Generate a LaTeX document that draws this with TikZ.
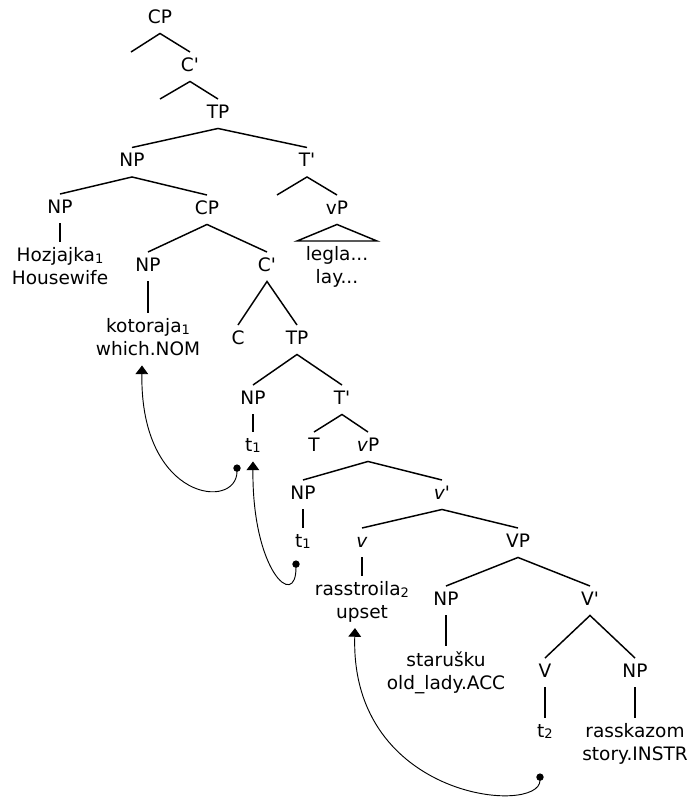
\documentclass[tikz,border=0pt]{standalone}
\usepackage{fontspec}
\setmainfont{DejaVu Sans}
\usepackage{tikz}
\usetikzlibrary{calc}
\usetikzlibrary{arrows.meta}

% index on traces and moved items
\newcommand{\idx}[1]{\raisebox{-1.2pt}{\fontsize{9.8pt}{10pt}\selectfont#1}}

\begin{document}
\begin{tikzpicture}[x=0.75pt,y=-0.75pt,
    cat/.style={anchor=north, inner xsep=1pt, inner ysep=4.1pt,
        text height=10.1pt, text depth=3.4pt,
        font=\fontsize{13.9pt}{17pt}\selectfont},
    leaf/.style={anchor=north, inner xsep=1pt, inner ysep=4.1pt,
        align=center, font=\fontsize{13.9pt}{17pt}\selectfont},
    branch/.style={line width=1.1pt},
    move/.style={line width=0.7pt,
        {Circle[length=5.5pt]}-{Triangle[width=9.5pt,length=6.5pt]}}]
        \useasboundingbox (0,0) rectangle (688,801);

        % Upper spine
        \node[cat] (cp1) at (160,4) {CP};
        \coordinate (spec1) at (131,52);
        \node[cat] (cb1) at (190,52) {C\textquotesingle};
        \coordinate (spec2) at (160,99);
        \node[cat] (tp1) at (218,99) {TP};
        \node[cat] (np1) at (132,147.5) {NP};
        \node[cat] (tb1) at (307,147.5) {T\textquotesingle};
        \node[cat] (np2) at (60,194) {NP};
        \node[cat] (cp2) at (207,195) {CP};
        \node[cat] (vp1) at (337,195) {vP};
        \node[leaf] (hoz) at (60,242) {Hozjajka\idx{1}\\Housewife};
        \node[leaf] (leg) at (337,241) {legla...\\lay...};

        % Relative clause
        \node[cat] (np3) at (148,252) {NP};
        \node[cat] (cb2) at (267,252) {C\textquotesingle};
        \node[leaf] (kot) at (148,313) {kotoraja\idx{1}\\which.NOM};
        \node[cat] (c2) at (238,325) {C};
        \node[cat] (tp2) at (297,325) {TP};
        \node[cat] (np4) at (253,385) {NP};
        \node[cat] (tb2) at (342,385) {T\textquotesingle};
        \node[cat] (t1a) at (253,432) {t\idx{1}};
        \node[cat] (t2) at (314,432) {T};
        \node[cat] (vp2) at (368,432) {\textit{v}P};
        \node[cat] (np5) at (303,480) {NP};
        \node[cat] (vb) at (442,480) {\textit{v\textquotesingle}};
        \node[cat] (t1b) at (303,528) {t\idx{1}};
        \node[cat] (v) at (362,528) {\textit{v}};
        \node[cat] (vp3) at (518,528) {VP};
        \node[leaf] (ras) at (362,576) {rasstroila\idx{2}\\upset};
        \node[cat] (np6) at (446,586) {NP};
        \node[cat] (vb2) at (590,586) {V\textquotesingle};
        \node[leaf] (sta) at (446,646) {starušku\\old\_lady.ACC};
        \node[cat] (vv) at (545,658) {V};
        \node[cat] (np7) at (635,658) {NP};
        \node[cat] (t2b) at (545,718) {t\idx{2}};
        \node[leaf] (rak) at (635,718) {rasskazom\\story.INSTR};

        % Branches
        \draw[branch] (spec1) -- (cp1.south) -- (cb1.north);
        \draw[branch] (spec2) -- (cb1.south) -- (tp1.north);
        \draw[branch] (np1.north) -- (tp1.south) -- (tb1.north);
        \draw[branch] (np2.north) -- (np1.south) -- (cp2.north);
        \draw[branch] ($(tb1.south)+(-30,18)$) -- (tb1.south) -- (vp1.north);
        \draw[branch] (vp1.south) -- ($(leg.north)+(-40,0)$) -- ($(leg.north)+(40,0)$) -- cycle;
        \draw[branch] (np2.south) -- (hoz.north);
        \draw[branch] (np3.north) -- (cp2.south) -- (cb2.north);
        \draw[branch] (np3.south) -- (kot.north);
        \draw[branch] (c2.north) -- (cb2.south) -- (tp2.north);
        \draw[branch] (np4.north) -- (tp2.south) -- (tb2.north);
        \draw[branch] (np4.south) -- (t1a.north);
        \draw[branch] (t2.north) -- (tb2.south) -- (vp2.north);
        \draw[branch] (np5.north) -- (vp2.south) -- (vb.north);
        \draw[branch] (np5.south) -- (t1b.north);
        \draw[branch] (v.north) -- (vb.south) -- (vp3.north);
        \draw[branch] (v.south) -- (ras.north);
        \draw[branch] (np6.north) -- (vp3.south) -- (vb2.north);
        \draw[branch] (np6.south) -- (sta.north);
        \draw[branch] (vv.north) -- (vb2.south) -- (np7.north);
        \draw[branch] (vv.south) -- (t2b.north);
        \draw[branch] (np7.south) -- (rak.north);

        % Movement
        \draw[move] ($(t1a.south)+(-16,3)$) .. controls +(0,46) and +(-2,136) .. ($(kot.south)+(-6,4)$);
        \draw[move] ($(t1b.south)+(-7,3)$) .. controls +(0,50) and +(-1,110) .. (t1a.south);
        \draw[move] ($(t2b.south)+(-5,26)$) .. controls +(0,42) and +(-5,172) .. ($(ras.south)+(-7,0)$);
    \end{tikzpicture}
\end{document}
